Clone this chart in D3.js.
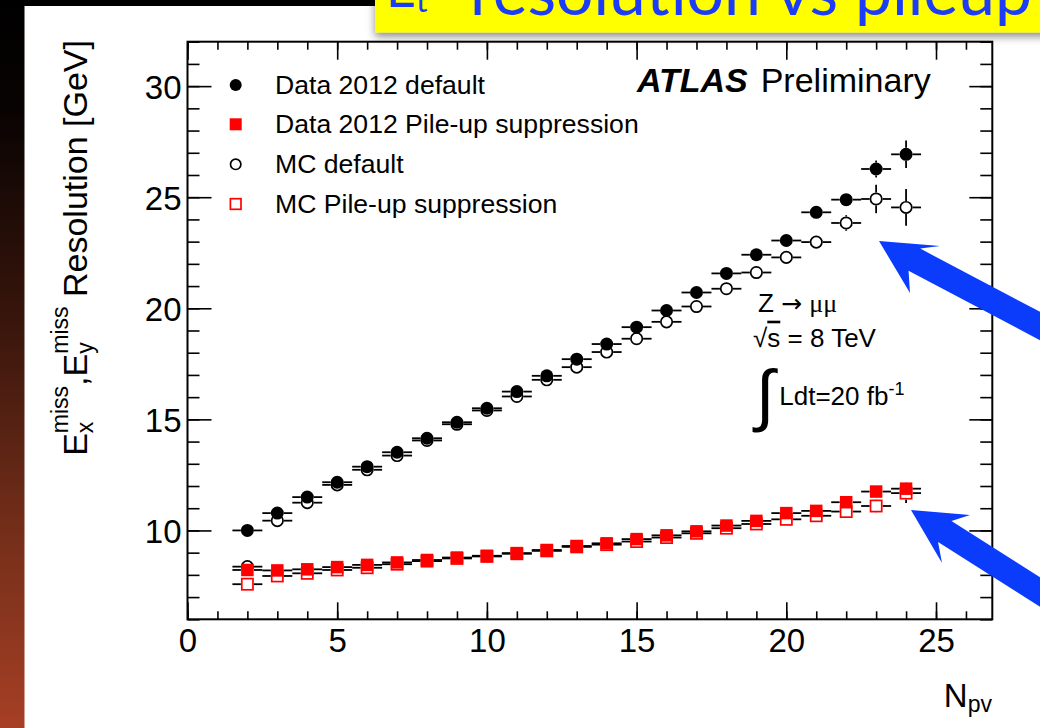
<!DOCTYPE html>
<html><head><meta charset="utf-8">
<script src="https://cdn.jsdelivr.net/npm/d3@7"></script>
<style>
html,body{margin:0;padding:0;background:#fff;overflow:hidden;}
svg{display:block;}
text{font-family:"Liberation Sans",Arial,Helvetica,sans-serif;}
</style></head><body>
<svg id="c" width="1040" height="728"></svg>
<script>
// ---------------- data ----------------
const nPV = [2,3,4,5,6,7,8,9,10,11,12,13,14,15,16,17,18,19,20,21,22,23,24];
const dataDefault = [10.0,10.78,11.5,12.17,12.87,13.52,14.15,14.87,15.5,16.25,16.96,17.71,18.39,19.15,19.9,20.71,21.57,22.41,23.05,24.32,24.89,26.27,26.93];
const dataDefaultErr = [0.05,0.04,0.04,0.04,0.04,0.04,0.04,0.05,0.05,0.06,0.07,0.08,0.09,0.1,0.11,0.13,0.15,0.17,0.2,0.22,0.26,0.38,0.62];
const mcDefault = [8.37,10.44,11.25,12.05,12.73,13.37,14.05,14.78,15.4,16.03,16.78,17.35,18.03,18.63,19.39,20.08,20.88,21.61,22.29,22.98,23.84,24.92,24.54];
const mcDefaultErr = [0.08,0.05,0.04,0.04,0.04,0.04,0.05,0.05,0.06,0.07,0.08,0.09,0.1,0.11,0.12,0.14,0.16,0.18,0.2,0.24,0.35,0.64,0.83];
const dataPU = [8.22,8.2,8.25,8.35,8.45,8.56,8.67,8.78,8.86,8.98,9.12,9.3,9.42,9.61,9.78,9.96,10.22,10.43,10.78,10.88,11.27,11.75,11.88];
const dataPUErr = [0.03,0.02,0.02,0.02,0.02,0.02,0.02,0.03,0.03,0.03,0.04,0.04,0.05,0.05,0.06,0.07,0.08,0.09,0.1,0.12,0.15,0.2,0.3];
const mcPU = [7.58,7.95,8.07,8.22,8.32,8.48,8.62,8.74,8.83,8.95,9.08,9.26,9.36,9.5,9.68,9.87,10.1,10.29,10.5,10.66,10.85,11.1,11.68];
const mcPUErr = [0.05,0.04,0.03,0.03,0.03,0.03,0.03,0.03,0.04,0.04,0.05,0.05,0.06,0.07,0.08,0.09,0.1,0.12,0.14,0.16,0.2,0.3,0.45];
const legendLabels = ["Data 2012 default","Data 2012 Pile-up suppression","MC default","MC Pile-up suppression"];
const xMajorTicks = [0,5,10,15,20,25];
const yMajorTicks = [10,15,20,25,30];

// ---------------- setup ----------------
const svg = d3.select("#c");
const defs = svg.append("defs");
const grad = defs.append("linearGradient").attr("id","strip").attr("x1",0).attr("y1",0).attr("x2",0).attr("y2",1);
[[0,"#000000"],[0.15,"#080302"],[0.45,"#3a160c"],[0.7,"#6e2c18"],[1,"#a63f25"]].forEach(s=>grad.append("stop").attr("offset",s[0]).attr("stop-color",s[1]));
const flt = defs.append("filter").attr("id","shadow").attr("x","-5%").attr("y","-50%").attr("width","110%").attr("height","250%");
flt.append("feDropShadow").attr("dx",0).attr("dy",4).attr("stdDeviation",4).attr("flood-color","#000").attr("flood-opacity",0.45);

svg.append("rect").attr("width",1040).attr("height",728).attr("fill","#fff");
svg.append("rect").attr("x",0).attr("y",0).attr("width",1040).attr("height",6).attr("fill","#000");
svg.append("rect").attr("x",0).attr("y",0).attr("width",24.5).attr("height",728).attr("fill","url(#strip)");

const x = d3.scaleLinear().domain([0,26.88]).range([187.5,992.3]);
const y = d3.scaleLinear().domain([6,32]).range([619.3,41.7]);
const X0=x.range()[0], X1=x.range()[1], Y0=y.range()[0], Y1=y.range()[1];

const axes = svg.append("g");
const minorX = d3.range(0,27,1), minorY = d3.range(6,33,1);
function styleAxis(g){ g.select(".domain").remove(); g.selectAll(".tick line").attr("stroke","#000").attr("stroke-width",1.6); }
// bottom
axes.append("g").attr("transform",`translate(0,${Y0})`).call(d3.axisBottom(x).tickValues(minorX).tickSize(-8).tickFormat("")).call(styleAxis);
axes.append("g").attr("transform",`translate(0,${Y0})`).call(d3.axisBottom(x).tickValues(xMajorTicks).tickSize(-17).tickPadding(9.3).tickFormat(d3.format("d"))).call(styleAxis)
  .selectAll("text").attr("font-size",33).attr("fill","#000").style("font-family","'Liberation Sans',Arial,sans-serif");
// top
axes.append("g").attr("transform",`translate(0,${Y1})`).call(d3.axisTop(x).tickValues(minorX).tickSize(-8).tickFormat("")).call(styleAxis);
axes.append("g").attr("transform",`translate(0,${Y1})`).call(d3.axisTop(x).tickValues(xMajorTicks).tickSize(-18).tickFormat("")).call(styleAxis);
// left
axes.append("g").attr("transform",`translate(${X0},0)`).call(d3.axisLeft(y).tickValues(minorY).tickSize(-12).tickFormat("")).call(styleAxis);
axes.append("g").attr("transform",`translate(${X0},0)`).call(d3.axisLeft(y).tickValues(yMajorTicks).tickSize(-24).tickPadding(6).tickFormat(d3.format("d"))).call(styleAxis)
  .selectAll("text").attr("font-size",33).attr("fill","#000").attr("dy","0.36em").style("font-family","'Liberation Sans',Arial,sans-serif");
// right
axes.append("g").attr("transform",`translate(${X1},0)`).call(d3.axisRight(y).tickValues(minorY).tickSize(-12).tickFormat("")).call(styleAxis);
axes.append("g").attr("transform",`translate(${X1},0)`).call(d3.axisRight(y).tickValues(yMajorTicks).tickSize(-23).tickFormat("")).call(styleAxis);
// frame
svg.append("rect").attr("x",X0).attr("y",Y1).attr("width",X1-X0).attr("height",Y0-Y1).attr("fill","none").attr("stroke","#000").attr("stroke-width",2);

// ---------------- series ----------------
const R = 6.5;
const plot = svg.append("g");
function drawSeries(vals, errs, shape, filled, color){
  const g = plot.append("g");
  const pts = nPV.map((n,i)=>({n, v:vals[i], e:errs[i]}));
  const segs = [];
  pts.forEach(p=>{
    const cx=x(p.n), cy=y(p.v);
    segs.push([x(p.n-0.5),cy,cx-R,cy],[cx+R,cy,x(p.n+0.5),cy]);
    const yt=y(p.v+p.e), yb=y(p.v-p.e);
    if (cy-yt > R) segs.push([cx,yt,cx,cy-R],[cx,cy+R,cx,yb]);
  });
  g.selectAll("line").data(segs).join("line")
    .attr("x1",d=>d[0]).attr("y1",d=>d[1]).attr("x2",d=>d[2]).attr("y2",d=>d[3])
    .attr("stroke","#000").attr("stroke-width",1.8);
  if (shape==="circle"){
    g.selectAll("circle").data(pts).join("circle")
      .attr("cx",d=>x(d.n)).attr("cy",d=>y(d.v)).attr("r",filled?R:R-0.8)
      .attr("fill",filled?color:"#fff").attr("stroke",filled?"none":color).attr("stroke-width",1.7);
  } else {
    const s = filled?12.5:11.2;
    g.selectAll("rect").data(pts).join("rect")
      .attr("x",d=>x(d.n)-s/2).attr("y",d=>y(d.v)-s/2).attr("width",s).attr("height",s)
      .attr("fill",filled?color:"#fff").attr("stroke",filled?"none":color).attr("stroke-width",1.7);
  }
}
drawSeries(mcDefault, mcDefaultErr, "circle", false, "#000");
drawSeries(mcPU, mcPUErr, "square", false, "#ff0000");
drawSeries(dataDefault, dataDefaultErr, "circle", true, "#000");
drawSeries(dataPU, dataPUErr, "square", true, "#ff0000");

// ---------------- legend ----------------
const lg = svg.append("g");
const legY = [85,124.3,164.3,204];
const legStyle = [["circle",true,"#000"],["square",true,"#ff0000"],["circle",false,"#000"],["square",false,"#ff0000"]];
legendLabels.forEach((t,i)=>{
  const [sh,f,c] = legStyle[i];
  if (sh==="circle") lg.append("circle").attr("cx",235.7).attr("cy",legY[i]).attr("r",f?6:5.2).attr("fill",f?c:"#fff").attr("stroke",f?"none":c).attr("stroke-width",1.7);
  else { const s=f?12:10.6; lg.append("rect").attr("x",235.7-s/2).attr("y",legY[i]-s/2).attr("width",s).attr("height",s).attr("fill",f?c:"#fff").attr("stroke",f?"none":c).attr("stroke-width",1.7); }
  lg.append("text").attr("x",275).attr("y",legY[i]+8.5).attr("font-size",26.6).attr("fill","#000").text(t);
});

// ATLAS label
svg.append("text").attr("x",637).attr("y",91.7).attr("font-size",34).attr("font-weight","bold").attr("font-style","italic").text("ATLAS");
svg.append("text").attr("x",760.7).attr("y",91.7).attr("font-size",34).text("Preliminary");

// annotations
svg.append("text").attr("x",758).attr("y",311.7).attr("font-size",26)
  .html('Z <tspan font-family="DejaVu Sans, sans-serif" font-size="25">\u2192</tspan> <tspan font-family="Liberation Serif, serif">\u03bc\u03bc</tspan>');
svg.append("text").attr("x",753).attr("y",346.7).attr("font-size",26).html('\u221a<tspan style="text-decoration:overline">s</tspan> = 8 TeV');
svg.append("text").attr("x",756).attr("y",418).attr("font-size",68).attr("font-family","DejaVu Serif, serif").text("\u222b");
svg.append("text").attr("x",779.3).attr("y",405).attr("font-size",26).html('Ldt=20 fb<tspan font-size="18" dy="-10">-1</tspan>');

// axis titles
svg.append("text").attr("x",992).attr("y",707).attr("text-anchor","end").attr("font-size",33)
  .html('N<tspan font-size="23" dy="5">pv</tspan>');
svg.append("text").attr("transform","translate(87,40) rotate(-90)").attr("text-anchor","end").attr("font-size",34)
  .html('E<tspan font-size="23" dy="5.5">x</tspan><tspan font-size="23" dx="-11.5" dy="-24.5">miss</tspan><tspan dy="19">,E</tspan><tspan font-size="23" dy="5.5">y</tspan><tspan font-size="23" dx="-11.5" dy="-24.5">miss</tspan><tspan dy="19"> Resolution [GeV]</tspan>');

// ---------------- arrows ----------------
function arrow(T, W1, W2, tail, w, notch){
  let dx=tail[0]-T[0], dy=tail[1]-T[1]; const L=Math.hypot(dx,dy); dx/=L; dy/=L;
  const nx=-dy, ny=dx;
  const s = Math.sign((W1[0]-T[0])*nx+(W1[1]-T[1])*ny);
  const N=[T[0]+dx*notch, T[1]+dy*notch];
  const E=[T[0]+dx*(L+60), T[1]+dy*(L+60)];
  return [T, W1, [N[0]+s*nx*w/2, N[1]+s*ny*w/2], [E[0]+s*nx*w/2, E[1]+s*ny*w/2], [E[0]-s*nx*w/2, E[1]-s*ny*w/2], [N[0]-s*nx*w/2, N[1]-s*ny*w/2], W2];
}
const arrows = [arrow([879,241],[940,246],[910,293],[1040,326],25,40), arrow([911,510],[970,515],[942,563],[1040,592],25,40)];
svg.append("g").selectAll("polygon").data(arrows).join("polygon")
  .attr("points",d=>d.map(p=>p.join(",")).join(" ")).attr("fill","#0b3cfb");

// ---------------- title box ----------------
svg.append("rect").attr("x",375).attr("y",-20).attr("width",700).attr("height",52.5).attr("fill","#ffff00").attr("filter","url(#shadow)");
const tt = svg.append("text").attr("fill","#1d3cf7").style("font-family","Lato, 'Open Sans', sans-serif");
tt.append("tspan").attr("x",386).attr("y",7).attr("font-size",52).text("E");
tt.append("tspan").attr("y",12).attr("font-size",32).text("t");
tt.append("tspan").attr("dx",-10).attr("y",-22).attr("font-size",26).text("miss");
tt.append("tspan").attr("x",470).attr("y",15).attr("font-size",66).text("resolution vs pileup");
</script>
</body></html>
